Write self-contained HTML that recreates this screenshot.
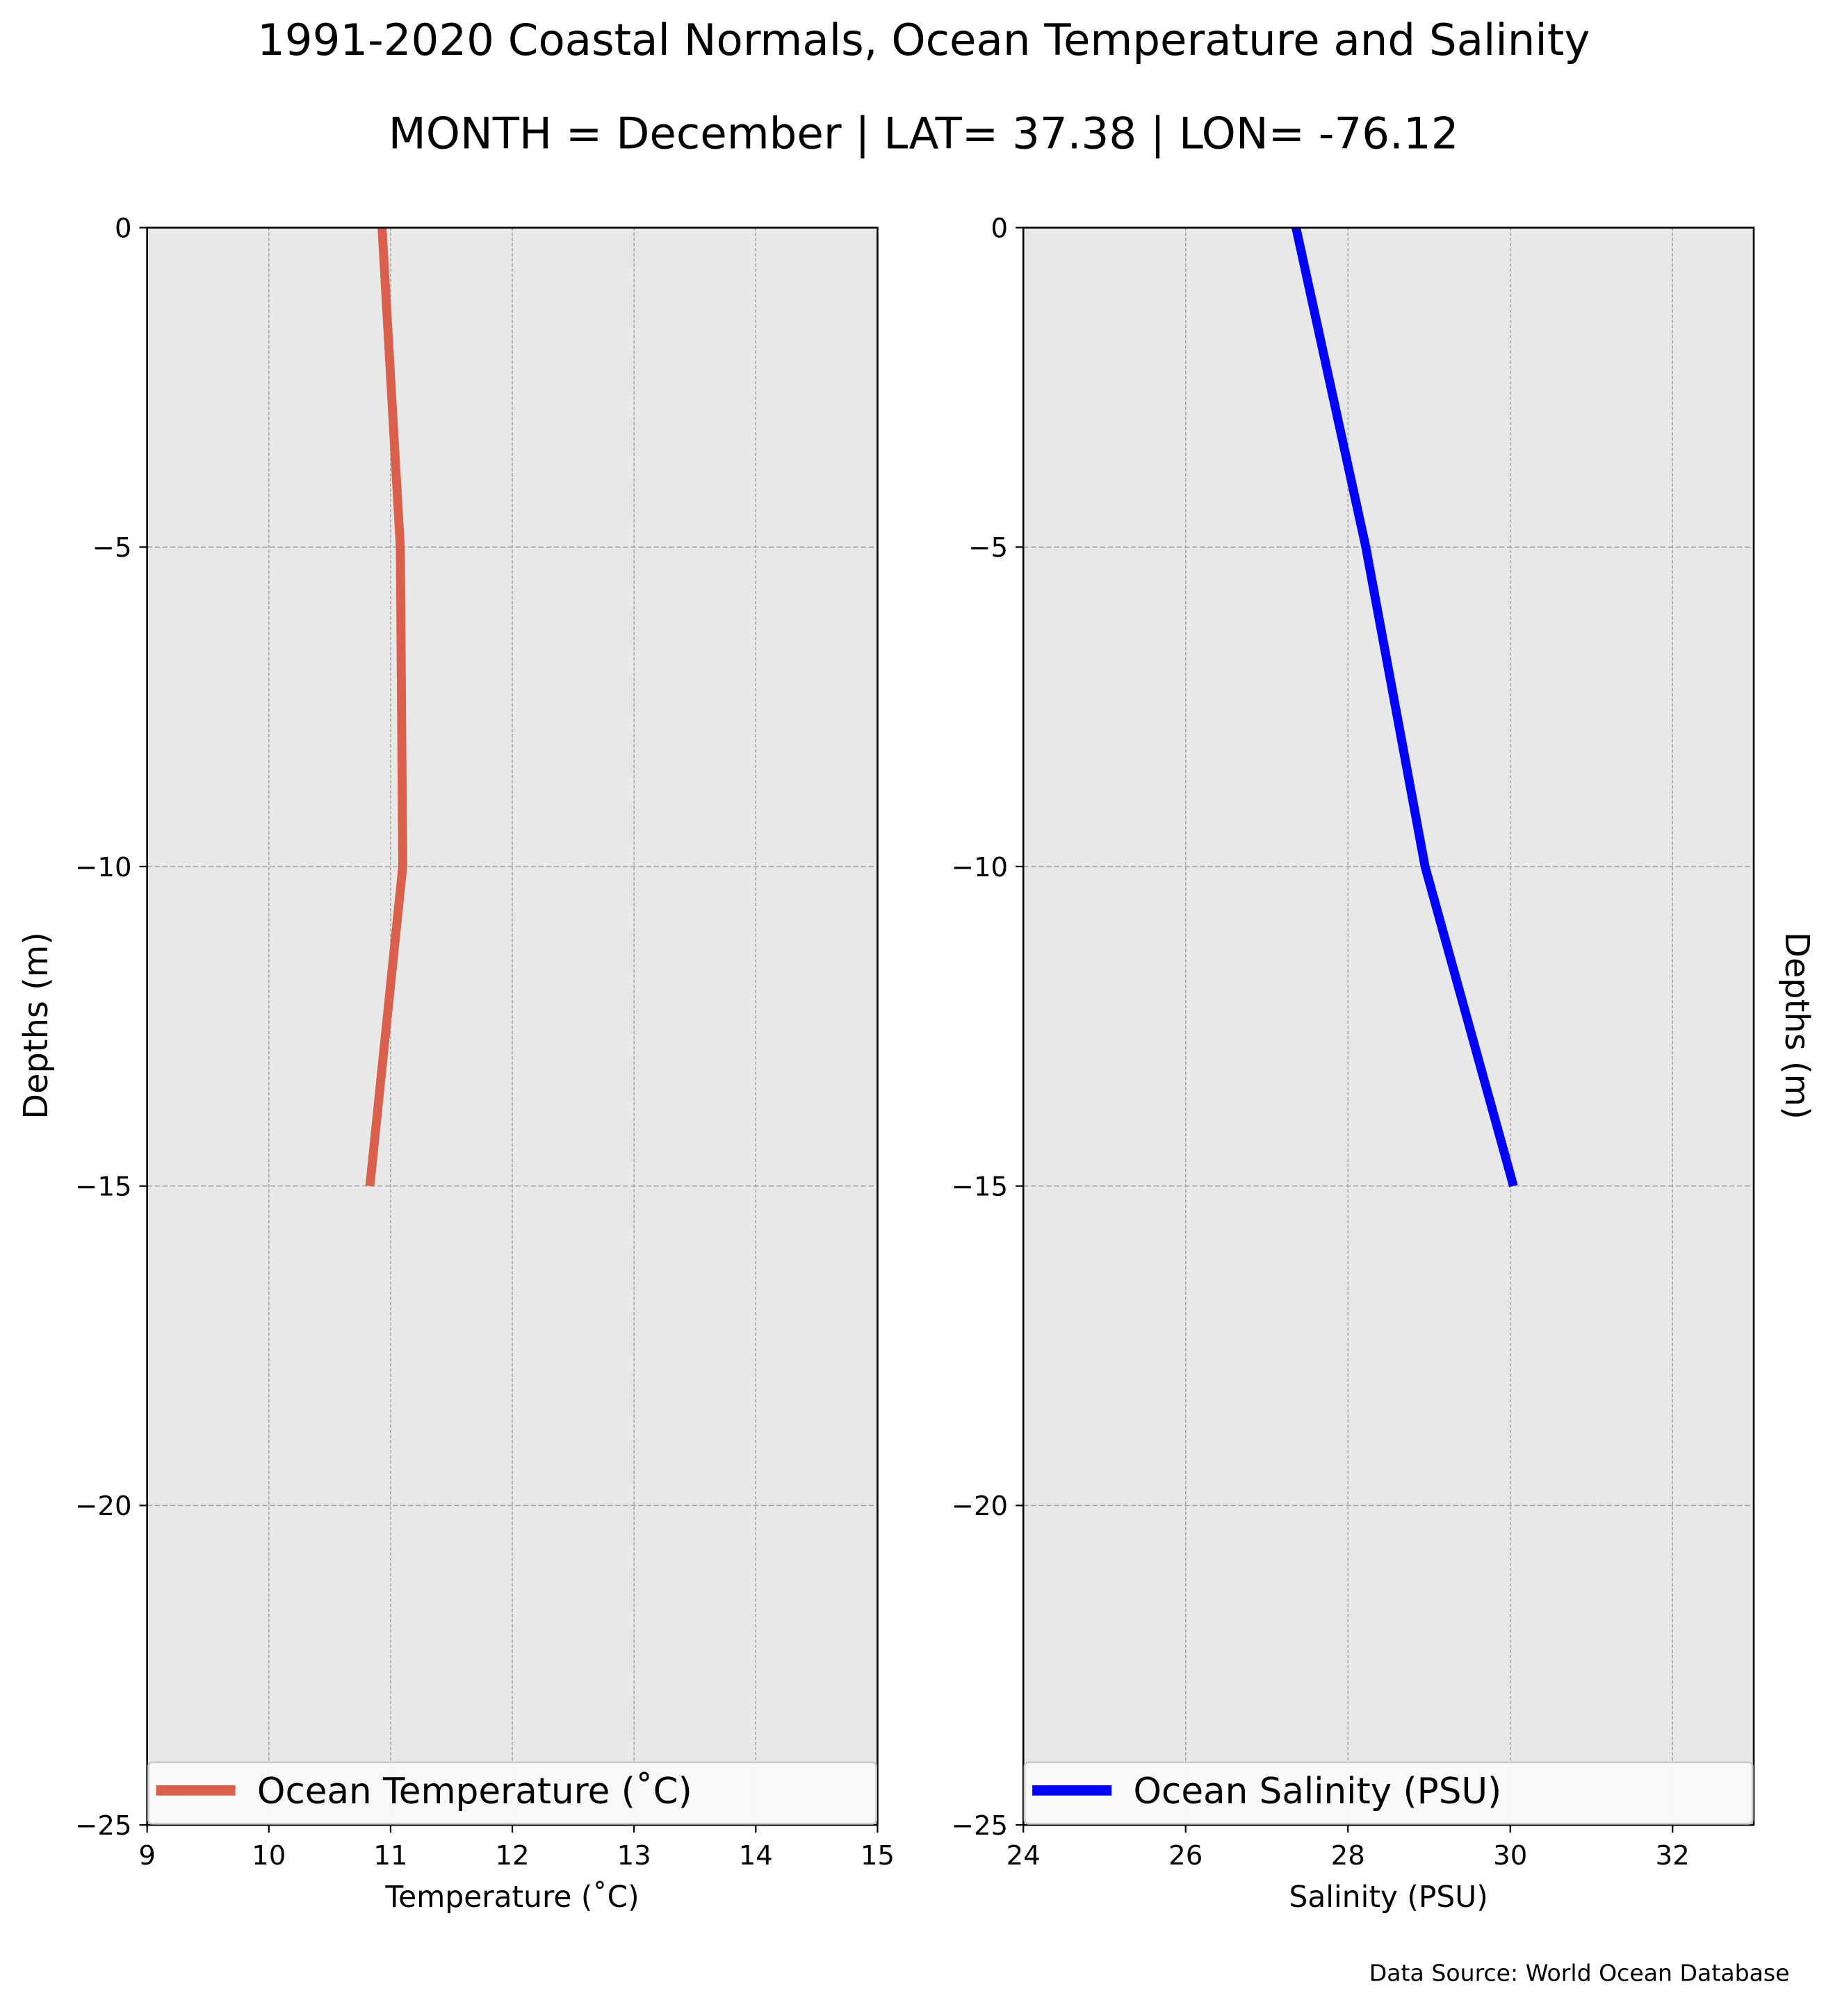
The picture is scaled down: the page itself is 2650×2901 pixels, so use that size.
<!DOCTYPE html>
<html><head><meta charset="utf-8"><style>html,body{margin:0;padding:0;background:#fff}svg{display:block}text{font-family:"DejaVu Sans","Liberation Sans",sans-serif}</style></head>
<body>
<svg id="chart" width="2650" height="2901" viewBox="0 0 1440 1576.4" xmlns="http://www.w3.org/2000/svg">
<text x="722" y="43" font-size="34" text-anchor="middle">1991-2020 Coastal Normals, Ocean Temperature and Salinity</text>
<text x="722" y="116" font-size="34" text-anchor="middle">MONTH = December | LAT= 37.38 | LON= -76.12</text>
<g id="p1"></g>
<g id="p2"></g>
<text transform="translate(37,802) rotate(-90)" font-size="26" text-anchor="middle">Depths (m)</text>
<text transform="translate(1396,802) rotate(90)" font-size="26" text-anchor="middle">Depths (m)</text>
<text x="1399" y="1549" font-size="18" text-anchor="end">Data Source: World Ocean Database</text>
</svg>
<script>
const depths = [0, -5, -10, -15];
const temperatures = [10.93, 11.08, 11.1, 10.83];
const salinities = [27.36, 28.22, 28.95, 30.04];
const tempTicks = [9, 10, 11, 12, 13, 14, 15];
const salTicks = [24, 26, 28, 30, 32];
const depthTicks = [0, -5, -10, -15, -20, -25];

const NS = 'http://www.w3.org/2000/svg';
function mk(tag, attrs, parent, txt) {
  const e = document.createElementNS(NS, tag);
  for (const k in attrs) e.setAttribute(k, attrs[k]);
  if (txt !== undefined) e.textContent = txt;
  parent.appendChild(e);
  return e;
}
const top_ = 178, bot = 1427;
function yS(d) { return top_ + (0 - d) / 25 * (bot - top_); }

function panel(g, x0, x1, xmin, xmax, xticks, vals, color, xlabel, legendText, prefix) {
  const xS = v => x0 + (v - xmin) / (xmax - xmin) * (x1 - x0);
  const bg = mk('rect', {x: x0, y: top_, width: x1 - x0, height: bot - top_, fill: '#e8e8e8'}, g);
  
  
  xticks.forEach(t => {
    const gl = mk('line', {x1: xS(t), x2: xS(t), y1: top_, y2: bot, stroke: '#a0a0a0', 'stroke-width': 0.8, 'stroke-dasharray': '2.5,1.5'}, g);
    
    
    mk('line', {x1: xS(t), x2: xS(t), y1: bot, y2: bot + 6, stroke: '#000', 'stroke-width': 1.2}, g);
    const tl = mk('text', {x: xS(t), y: bot + 31, 'font-size': 21, 'text-anchor': 'middle'}, g, String(t));
    
    
  });
  depthTicks.forEach(t => {
    const gl = mk('line', {x1: x0, x2: x1, y1: yS(t), y2: yS(t), stroke: '#a0a0a0', 'stroke-width': 0.8, 'stroke-dasharray': '4,2'}, g);
    
    
    mk('line', {x1: x0 - 6, x2: x0, y1: yS(t), y2: yS(t), stroke: '#000', 'stroke-width': 1.2}, g);
    const lab = t < 0 ? '\u2212' + Math.abs(t) : String(t);
    const tl = mk('text', {x: x0 - 12, y: yS(t) + 7.5, 'font-size': 21, 'text-anchor': 'end'}, g, lab);
    
    
  });
  const pts = vals.map((v, i) => xS(v) + ',' + yS(depths[i])).join(' ');
  const ln = mk('polyline', {points: pts, fill: 'none', stroke: color, 'stroke-width': 7, 'stroke-linejoin': 'round'}, g);
  
  
  const fr = mk('rect', {x: x0, y: top_, width: x1 - x0, height: bot - top_, fill: 'none', stroke: '#000', 'stroke-width': 1.4}, g);
  
  
  const lg = mk('g', {}, g);
  
  
  mk('rect', {x: x0 + 1, y: 1378, width: x1 - x0 - 2, height: 48, rx: 3, fill: '#fafafa', stroke: '#cccccc', 'stroke-width': 1.5, 'fill-opacity': 0.95}, lg);
  mk('line', {x1: x0 + 7, x2: x0 + 69, y1: 1400, y2: 1400, stroke: color, 'stroke-width': 8}, lg);
  mk('text', {x: x0 + 86, y: 1410, 'font-size': 28}, lg, legendText);
  const xl = mk('text', {x: (x0 + x1) / 2, y: bot + 64, 'font-size': 23, 'text-anchor': 'middle'}, g, xlabel);
  
  
}
panel(document.getElementById('p1'), 115, 686, 9, 15, tempTicks, temperatures, '#d9604c', 'Temperature (\u02daC)', 'Ocean Temperature (\u02daC)', 'temperature');
panel(document.getElementById('p2'), 800, 1371, 24, 33, salTicks, salinities, '#0000ff', 'Salinity (PSU)', 'Ocean Salinity (PSU)', 'salinity');
</script>
</body></html>
